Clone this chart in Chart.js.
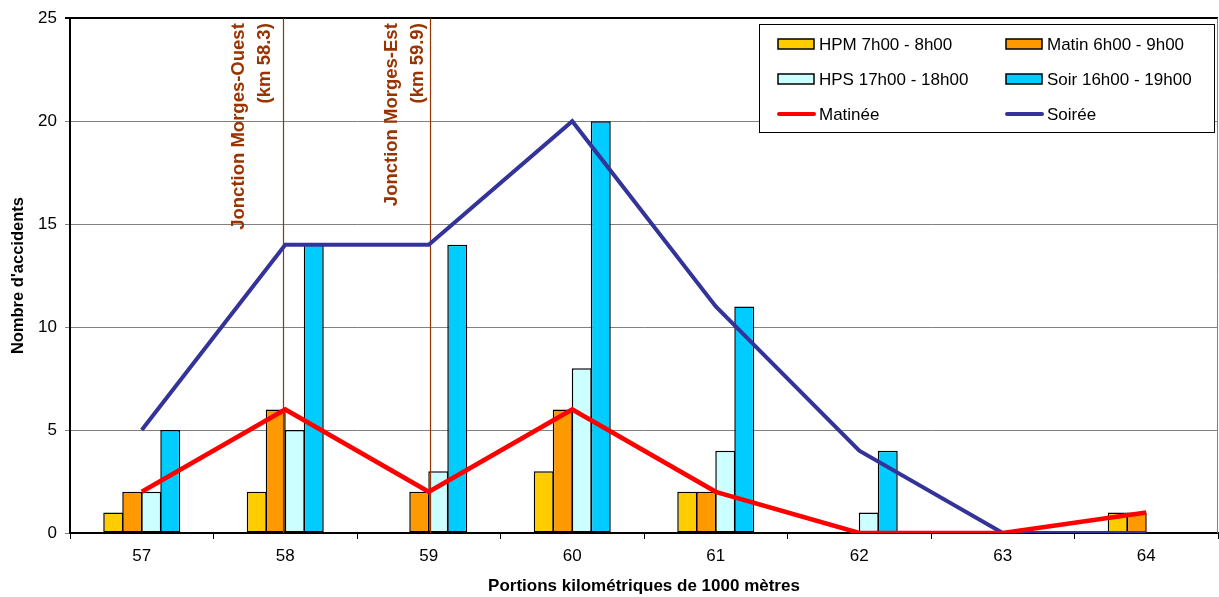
<!DOCTYPE html>
<html>
<head>
<meta charset="utf-8">
<title>Accidents par portion kilométrique</title>
<script src="https://cdn.jsdelivr.net/npm/chart.js@4/dist/chart.umd.min.js"></script>
<style>
  html, body { margin:0; padding:0; background:#fff; }
  #wrap { width:1219px; height:597px; position:relative; }
</style>
</head>
<body>
<div id="wrap"><canvas id="accChart"></canvas></div>
<script>
// categories (km)
const kmLabels = ["57","58","59","60","61","62","63","64"];

// bar series
const hpm   = [1, 2, 0, 3, 2, 0, 0, 1];   // HPM 7h00 - 8h00
const matin = [2, 6, 2, 6, 2, 0, 0, 1];   // Matin 6h00 - 9h00
const hps   = [2, 5, 3, 8, 4, 1, 0, 0];   // HPS 17h00 - 18h00
const soir  = [5, 14, 14, 20, 11, 4, 0, 0]; // Soir 16h00 - 19h00

// line series
const matinee = [2, 6, 2, 6, 2, 0, 0, 1];
const soiree  = [5, 14, 14, 20, 11, 4, 0, 0];

const yTicks = [0, 5, 10, 15, 20, 25];

// junctions (position on category axis, index units)
const junctionPos = [0.982, 2.009];
const junctionText = [["Jonction Morges-Ouest", "(km 58.3)"], ["Jonction Morges-Est", "(km 59.9)"]];
const junctionLabelPos = [0.859, 1.925];

const FONT = "'Liberation Sans', Arial, sans-serif";
const BROWN = "#993300";

const legendItems = [
  { text:"HPM 7h00 - 8h00", type:"box", color:"#FFCC00" },
  { text:"Matin 6h00 - 9h00", type:"box", color:"#FF9900" },
  { text:"HPS 17h00 - 18h00", type:"box", color:"#CCFFFF" },
  { text:"Soir 16h00 - 19h00", type:"box", color:"#00CCFF" },
  { text:"Matinée", type:"line", color:"#FF0000" },
  { text:"Soirée", type:"line", color:"#333399" }
];

const junctionPlugin = {
  id:"junctions",
  beforeDatasetDraw(chart, args) {
    if (args.index !== 5) return; // draw before the Soirée line
    const ctx = chart.ctx, x = chart.scales.x, area = chart.chartArea;
    ctx.save();
    ctx.strokeStyle = BROWN;
    ctx.lineWidth = 1.2;
    junctionPos.forEach(v => {
      const px = Math.round(x.getPixelForValue(v)) + 0.5;
      ctx.beginPath(); ctx.moveTo(px, area.top); ctx.lineTo(px, area.bottom); ctx.stroke();
    });
    ctx.fillStyle = BROWN;
    ctx.font = "bold 18.5px " + FONT;
    ctx.textAlign = "right";
    ctx.textBaseline = "middle";
    junctionText.forEach((lines, i) => {
      const cx = x.getPixelForValue(junctionLabelPos[i]);
      lines.forEach((t, j) => {
        const lx = cx - (lines.length - 1 - j) * 26;
        ctx.save();
        ctx.translate(lx, area.top + 5);
        ctx.rotate(-Math.PI / 2);
        ctx.fillText(t, 0, 0);
        ctx.restore();
      });
    });
    ctx.restore();
  }
};

const framePlugin = {
  id:"frame",
  afterDraw(chart) {
    const ctx = chart.ctx, a = chart.chartArea;
    ctx.save();
    ctx.strokeStyle = "#808080";
    ctx.lineWidth = 1;
    ctx.beginPath(); ctx.moveTo(a.right - 0.5, a.top); ctx.lineTo(a.right - 0.5, a.bottom); ctx.stroke();

    // legend
    const L = 759, T = 24, W = 455, H = 108;
    ctx.fillStyle = "#fff";
    ctx.fillRect(L, T, W, H);
    ctx.strokeStyle = "#000";
    ctx.strokeRect(L + 0.5, T + 0.5, W, H);
    ctx.font = "17px " + FONT;
    ctx.textBaseline = "middle";
    ctx.textAlign = "left";
    legendItems.forEach((it, i) => {
      const col = i % 2, row = Math.floor(i / 2);
      const sx = col ? 1006 : 778;
      const sy = 44 + row * 35;
      if (it.type === "box") {
        ctx.fillStyle = it.color;
        ctx.fillRect(sx, sy - 5, 36, 10);
        ctx.strokeStyle = "#000";
        ctx.lineWidth = 1.5;
        ctx.strokeRect(sx, sy - 5, 36, 10);
      } else {
        ctx.strokeStyle = it.color;
        ctx.lineWidth = 4;
        ctx.lineCap = "round";
        ctx.beginPath(); ctx.moveTo(sx + 1, sy); ctx.lineTo(sx + 36, sy); ctx.stroke();
      }
      ctx.fillStyle = "#000";
      ctx.fillText(it.text, sx + 41, sy + 1);
    });
    ctx.restore();
  }
};

function barSet(label, data, color) {
  return { type:"bar", label, data, backgroundColor:color, borderColor:"#000", borderWidth:1.5,
           borderSkipped:false, categoryPercentage:0.53, barPercentage:1.05, order:2 };
}

new Chart(document.getElementById("accChart").getContext("2d"), {
  data: {
    labels: kmLabels,
    datasets: [
      barSet("HPM 7h00 - 8h00", hpm, "#FFCC00"),
      barSet("Matin 6h00 - 9h00", matin, "#FF9900"),
      barSet("HPS 17h00 - 18h00", hps, "#CCFFFF"),
      barSet("Soir 16h00 - 19h00", soir, "#00CCFF"),
      { type:"line", label:"Matinée", data:matinee, borderColor:"#FF0000", borderWidth:4.5,
        pointRadius:0, tension:0, fill:false, order:0 },
      { type:"line", label:"Soirée", data:soiree, borderColor:"#333399", borderWidth:4,
        pointRadius:0, tension:0, fill:false, order:1 }
    ]
  },
  options: {
    responsive:true,
    maintainAspectRatio:false,
    animation:false,
    layout:{ padding:{ top:18, right:1, left:0, bottom:0 } },
    plugins:{ legend:{ display:false }, tooltip:{ enabled:false } },
    scales:{
      x:{
        type:"category",
        offset:true,
        grid:{ offset:true, drawOnChartArea:false, drawTicks:true, tickLength:6, color:"#000", lineWidth:1 },
        border:{ color:"#000", width:2 },
        ticks:{ color:"#000", font:{ family:FONT, size:17 }, padding:7 },
        title:{ display:true, text:"Portions kilométriques de 1000 mètres", color:"#000",
                font:{ family:FONT, size:17, weight:"bold" }, padding:{ top:0, bottom:0 } },
        afterFit(s){ s.height = 64; }
      },
      y:{
        min:0, max:25,
        afterBuildTicks(s){ s.ticks = yTicks.map(v => ({ value:v })); },
        grid:{ tickLength:5, lineWidth:(c) => (c.tick && c.tick.value === 25 ? 2 : 1),
               color:(c) => (c.tick && c.tick.value === 25 ? "#000" : "#808080") },
        border:{ color:"#000", width:2 },
        ticks:{ color:"#000", font:{ family:FONT, size:17 }, padding:8 },
        title:{ display:true, text:"Nombre d'accidents", color:"#000",
                font:{ family:FONT, size:16.5, weight:"bold" }, padding:{ top:9, bottom:0 } },
        afterFit(s){ s.width = 70; }
      }
    }
  },
  plugins:[junctionPlugin, framePlugin]
});
</script>
</body>
</html>
